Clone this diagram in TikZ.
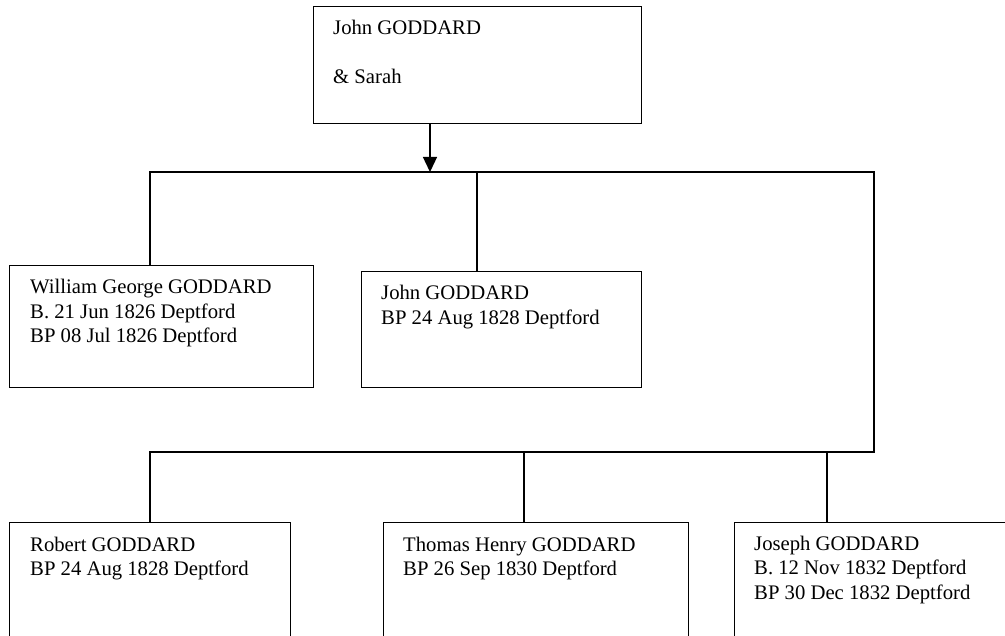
\documentclass[tikz,border=0pt]{standalone}
\usepackage{fontspec}
\setmainfont{Liberation Serif}
\usetikzlibrary{arrows.meta}
\tikzset{
  personbox/.style={draw, line width=1.3pt, rectangle, inner sep=0pt, anchor=north west},
  persontext/.style={anchor=base west, inner sep=0pt, font=\fontsize{20.7pt}{24.5pt}\selectfont},
  link/.style={line width=1.3pt},
}
\newcommand{\ptext}[1]{\parbox[t]{330pt}{\setlength\baselineskip{24.5pt}#1}}
\begin{document}
\begin{tikzpicture}[x=1pt,y=-1pt]
\useasboundingbox (0,0) rectangle (1005,636);
\clip (0,0) rectangle (1005,636);
% boxes
\node[personbox, minimum width=328pt, minimum height=117pt] (top) at (313,6) {};
\node[personbox, minimum width=304pt, minimum height=122pt] (b1) at (9,265) {};
\node[personbox, minimum width=280pt, minimum height=116pt] (b2) at (361,271) {};
\node[personbox, minimum width=281pt, minimum height=140pt] (b3) at (9,522) {};
\node[personbox, minimum width=305pt, minimum height=140pt] (b4) at (383,522) {};
\node[personbox, minimum width=300pt, minimum height=140pt] (b5) at (734,522) {};
% texts
\node[persontext] (ttop) at ([shift={(20pt,-29pt)}]top.north west) {\ptext{John GODDARD\\ \mbox{}\\ \& Sarah}};
\node[persontext] (t1) at ([shift={(21pt,-29pt)}]b1.north west) {\ptext{William George GODDARD\\ B. 21 Jun 1826 Deptford\\ BP 08 Jul 1826 Deptford}};
\node[persontext] (t2) at ([shift={(20pt,-29pt)}]b2.north west) {\ptext{John GODDARD\\ BP 24 Aug 1828 Deptford}};
\node[persontext] (t3) at ([shift={(21pt,-29pt)}]b3.north west) {\ptext{Robert GODDARD\\ BP 24 Aug 1828 Deptford}};
\node[persontext] (t4) at ([shift={(20pt,-29pt)}]b4.north west) {\ptext{Thomas Henry GODDARD\\ BP 26 Sep 1830 Deptford}};
\node[persontext] (t5) at ([shift={(20pt,-28pt)}]b5.north west) {\ptext{Joseph GODDARD\\ B. 12 Nov 1832 Deptford\\ BP 30 Dec 1832 Deptford}};
% junction points
\coordinate (j) at (430,172);
\coordinate (c1) at (150,172);
\coordinate (c2) at (477,172);
\coordinate (r1) at (874,172);
\coordinate (r2) at (874,452);
\coordinate (l) at (150,452);
\coordinate (c4) at (524,452);
\coordinate (c5) at (827,452);
% connectors
\draw[link, -{Triangle[length=15pt,width=14pt]}] (top.south -| j) -- (j);
\draw[link] (b1.north -| c1) -- (c1) -- (r1) -- (r2) -- (l) -- (b3.north -| l);
\draw[link] (c2) -- (b2.north -| c2);
\draw[link] (c4) -- (b4.north -| c4);
\draw[link] (c5) -- (b5.north -| c5);
\end{tikzpicture}
\end{document}
